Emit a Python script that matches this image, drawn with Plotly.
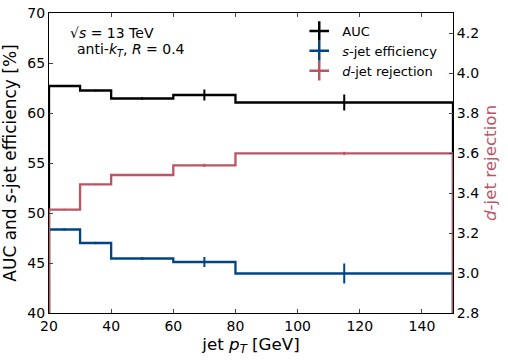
import plotly.graph_objects as go

# pT bins [GeV]
bin_edges = [20, 30, 40, 60, 80, 150]
bin_centers = [25, 35, 50, 70, 115]

# AUC [%]
auc = [62.7, 62.25, 61.45, 61.8, 61.05]
auc_err = [0.1, 0.1, 0.12, 0.55, 0.8]

# s-jet efficiency [%]
s_eff = [48.35, 47.0, 45.45, 45.1, 43.95]
s_eff_err = [0.12, 0.12, 0.15, 0.5, 1.0]

# d-jet rejection (right axis)
d_rej = [3.317, 3.443, 3.49, 3.538, 3.598]
d_rej_err = [0.004, 0.004, 0.004, 0.008, 0.008]

black = "#000000"
blue = "#004488"
red = "#BB5566"
font = "DejaVu Sans"


def steps(edges, vals, base):
    xs = [edges[0]]
    ys = [base]
    for i, v in enumerate(vals):
        xs += [edges[i], edges[i + 1]]
        ys += [v, v]
    xs.append(edges[-1])
    ys.append(base)
    return xs, ys


fig = go.Figure()

series = [
    (auc, auc_err, black, "AUC", "y"),
    (s_eff, s_eff_err, blue, "<i>s</i>-jet efficiency", "y"),
    (d_rej, d_rej_err, red, "<i>d</i>-jet rejection", "y2"),
]

for vals, errs, col, name, ax in series:
    base = 40 if ax == "y" else 2.8
    xs, ys = steps(bin_edges, vals, base)
    fig.add_trace(go.Scatter(x=xs, y=ys, yaxis=ax, mode="lines",
                             line=dict(color=col, width=2.3),
                             showlegend=False, hoverinfo="skip"))
    fig.add_trace(go.Scatter(x=bin_centers, y=vals, yaxis=ax, mode="markers",
                             marker=dict(size=1, color=col),
                             error_y=dict(type="data", array=errs, color=col,
                                          thickness=2, width=0),
                             showlegend=False))
    # legend entry
    fig.add_trace(go.Scatter(x=[None], y=[None], yaxis=ax, mode="markers", name=name,
                             marker=dict(symbol="cross-thin", size=14,
                                         line=dict(color=col, width=2.5))))

fig.add_annotation(x=0.047, y=0.933, xref="paper", yref="paper", xanchor="left",
                   yanchor="middle", showarrow=False,
                   text="√<i>s</i> = 13 TeV",
                   font=dict(family=font, size=14, color="black"))
fig.add_annotation(x=0.064, y=0.877, xref="paper", yref="paper", xanchor="left",
                   yanchor="middle", showarrow=False,
                   text="anti-<i>k</i><sub><i>T</i></sub>, <i>R</i> = 0.4",
                   font=dict(family=font, size=14, color="black"))

fig.update_layout(
    width=508, height=360,
    margin=dict(l=49, r=55, t=13, b=47),
    plot_bgcolor="white", paper_bgcolor="white",
    font=dict(family=font, size=14, color="black"),
    legend=dict(x=0.612, y=0.99, xanchor="left", yanchor="top", itemwidth=36,
                bgcolor="rgba(0,0,0,0)", font=dict(size=13), tracegroupgap=0),
    xaxis=dict(range=[20, 150], tickvals=[20, 40, 60, 80, 100, 120, 140],
               ticks="inside", ticklen=4, showline=True, linecolor="black",
               linewidth=1, mirror="ticks", showgrid=False, zeroline=False,
               tickfont=dict(size=14), automargin=False,
               title=dict(text="jet <i>p</i><sub><i>T</i></sub> [GeV]", standoff=2,
                          font=dict(size=16.7))),
    yaxis=dict(range=[40, 70], tickvals=[40, 45, 50, 55, 60, 65, 70],
               ticks="inside", ticklen=4, showline=True, linecolor="black",
               linewidth=1, showgrid=False, zeroline=False,
               tickfont=dict(size=14), automargin=False,
               title=dict(text="AUC and <i>s</i>-jet efficiency [%]", standoff=8,
                          font=dict(size=17))),
    yaxis2=dict(range=[2.8, 4.3], tickvals=[2.8, 3.0, 3.2, 3.4, 3.6, 3.8, 4.0, 4.2],
                ticktext=["2.8", "3.0", "3.2", "3.4", "3.6", "3.8", "4.0", "4.2"],
                overlaying="y", side="right", ticks="inside", ticklen=4,
                showline=True, linecolor="black", linewidth=1, showgrid=False,
                zeroline=False, tickfont=dict(size=14), automargin=False,
                title=dict(text="<i>d</i>-jet rejection", standoff=6,
                           font=dict(size=16.7, color=red))),
)

# drop the browser's default page margin so the figure sits at (0, 0)
fig.write_html("out.html", config={"displayModeBar": False},
               post_script="document.body.style.margin='0';")
